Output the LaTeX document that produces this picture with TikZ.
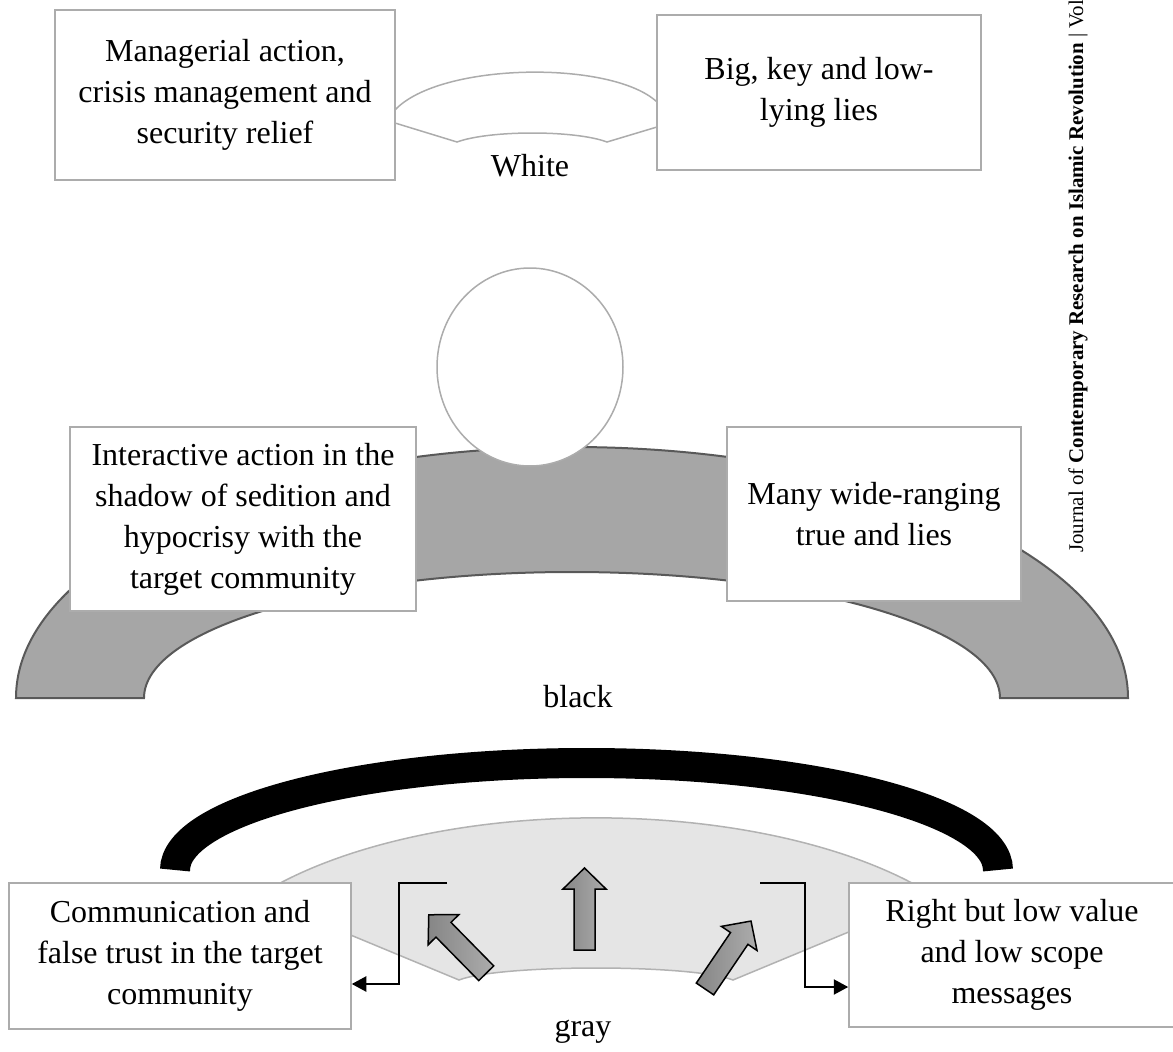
\documentclass[tikz,border=0pt]{standalone}
\usepackage{fontspec}
\setmainfont{Liberation Serif}
\usetikzlibrary{arrows.meta}

\newcommand{\diagfont}{\fontsize{18.2pt}{23.3pt}\selectfont}
\newcommand{\journalfont}{\fontsize{11.9pt}{14pt}\selectfont}

\tikzset{
    box/.style={draw=gray!65, line width=0.3mm, fill=white, align=center, inner sep=0pt, font=\diagfont},
    tag/.style={inner sep=0pt, font=\diagfont},
    thinarc/.style={draw=gray!65, line width=0.3mm},
    band/.style={draw=black!65, fill=gray!70, line width=0.4mm},
    grayband/.style={draw=gray!60, fill=gray!20, line width=0.3mm},
    blockarrow/.style={draw=black, line width=0.3mm, left color=gray!95, right color=gray!65},
    conn/.style={draw=black, line width=0.45mm, -{Triangle[length=2.9mm, width=3mm]}}
}

\begin{document}
\begin{tikzpicture}[x=0.2mm, y=-0.2mm]
    \useasboundingbox (0,0) rectangle (1173,1052);

    % White level
    \draw[thinarc] (395,110) .. controls (440,62) and (612,60) .. (657,102);
    \draw[thinarc] (395,123) -- (457,142) .. controls (490,130) and (575,130) .. (607,142) -- (657,127);
    \node[box, minimum width=68mm, minimum height=34mm] (Managerial) at (225,95) {Managerial action,\\ crisis management and\\ security relief};
    \node[box, minimum width=64.8mm, minimum height=31mm] (BigLies) at (819,92.5) {Big, key and low-\\ lying lies};
    \node[tag] (White_label) at (530,166) {White};

    % Black level
    \draw[band] (16,698) arc[start angle=180, end angle=360, x radius=556, y radius=251]
        -- (1000,698) arc[start angle=0, end angle=-180, x radius=428, y radius=126] -- cycle;
    \draw[draw=gray!65, line width=0.3mm, fill=white] (530,367) ellipse [x radius=93, y radius=99];
    \node[box, minimum width=69.2mm, minimum height=36.8mm] (Interactive) at (243,519) {Interactive action in the\\ shadow of sedition and\\ hypocrisy with the\\ target community};
    \node[box, minimum width=58.8mm, minimum height=34.8mm] (ManyLies) at (874,514) {Many wide-ranging\\ true and lies};
    \node[tag] (Black_label) at (578,697) {black};

    % Gray level
    \draw[line width=6mm] (175,870) arc[start angle=180, end angle=360, x radius=411.5, y radius=107];
    \draw[grayband] (300,914) -- (459,980) .. controls (500,964) and (692,964) .. (733,980) -- (892,914)
        -- (942,901) arc[start angle=327.1, end angle=212.9, x radius=412, y radius=182] -- cycle;
    \foreach \px/\py/\ang in {584.5/909/90, 457.5/944/134.5, 728/955/55.9}
        \draw[blockarrow, shift={(\px,\py)}, rotate=\ang] (-41,-10.5) -- (20,-10.5) -- (20,-21.5) -- (41,0) -- (20,21.5) -- (20,10.5) -- (-41,10.5) -- cycle;
    \node[box, minimum width=68.4mm, minimum height=29.2mm] (Communication) at (180,956) {Communication and\\ false trust in the target\\ community};
    \node[box, minimum width=65.2mm, minimum height=28.8mm] (RightMsg) at (1012,955) {Right but low value\\ and low scope\\ messages};
    \node[tag] (Gray_label) at (583,1032) {gray};

    % Bracket connectors to the boxes
    \coordinate (gl) at (447,883);
    \coordinate (glb) at (399,984);
    \draw[conn] (gl) -| (glb) -- (glb -| Communication.east);
    \coordinate (gr) at (760,883);
    \coordinate (grb) at (805,987);
    \draw[conn] (gr) -| (grb) -- (grb -| RightMsg.west);

    % Journal running head
    \node[rotate=90, anchor=west, inner sep=0pt, font=\journalfont] (Journal) at (1078,553) {Journal of \textbf{Contemporary Research on Islamic Revolution} | Vol.};
\end{tikzpicture}
\end{document}
